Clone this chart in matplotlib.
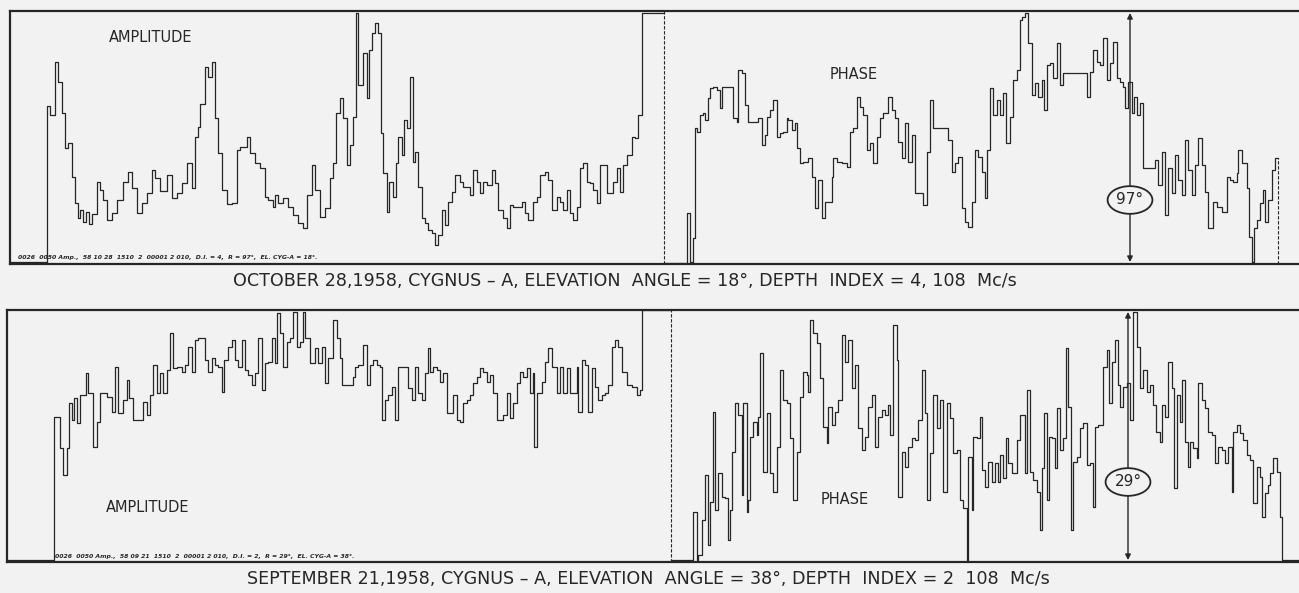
import numpy as np
import matplotlib.pyplot as plt

# Recorder traces, Cygnus-A at 108 Mc/s.
# Each list holds (time, deflection) pairs, time in chart units along the record,
# deflection in chart units above the baseline (full scale ~252).

# ---- October 28, 1958 ----
amp_oct = [
    (0, 2), (37, 158), (40, 149), (45, 202), (48, 182), (52, 151), (55, 116), (58, 121),
    (62, 87), (65, 61), (68, 46), (70, 54), (73, 42), (76, 52), (79, 40), (82, 50),
    (87, 82), (90, 74), (93, 64), (97, 44), (102, 51), (107, 64), (113, 82), (118, 92),
    (122, 76), (127, 51), (132, 61), (137, 71), (142, 94), (145, 86), (150, 73), (157, 89),
    (162, 66), (167, 71), (172, 81), (177, 101), (182, 76), (185, 127), (188, 137), (190, 160),
    (195, 197), (198, 187), (202, 202), (205, 146), (208, 111), (212, 74), (217, 60), (222, 61),
    (227, 114), (230, 117), (237, 127), (240, 111), (245, 101), (250, 96), (255, 67), (258, 64),
    (263, 57), (265, 69), (268, 61), (273, 66), (278, 57), (283, 49), (288, 41), (293, 36),
    (297, 69), (302, 99), (305, 74), (310, 47), (315, 56), (320, 86), (323, 101), (326, 151),
    (330, 166), (333, 146), (337, 99), (340, 119), (343, 147), (346, 251), (348, 179), (353, 211),
    (357, 166), (359, 214), (362, 231), (365, 241), (368, 231), (371, 131), (373, 91), (377, 52),
    (379, 82), (383, 67), (386, 101), (388, 127), (392, 109), (394, 144), (397, 136), (400, 187),
    (403, 102), (405, 112), (408, 77), (412, 46), (415, 41), (418, 34), (422, 31), (425, 19),
    (428, 29), (432, 54), (435, 39), (438, 62), (442, 72), (445, 89), (450, 82), (453, 77),
    (460, 69), (463, 94), (467, 82), (470, 71), (473, 82), (477, 79), (482, 94), (485, 81),
    (488, 54), (493, 46), (497, 36), (500, 59), (503, 57), (508, 57), (512, 62), (515, 51),
    (518, 44), (523, 62), (527, 67), (530, 89), (535, 92), (538, 84), (542, 54), (547, 67),
    (550, 62), (553, 54), (557, 74), (560, 51), (563, 44), (567, 57), (570, 96), (573, 101),
    (577, 82), (580, 81), (583, 74), (587, 61), (590, 99), (597, 71), (603, 82), (607, 96),
    (610, 72), (613, 99), (617, 109), (622, 127), (625, 126), (628, 149), (632, 251), (654, 251),
]

phase_oct = [
    (654, 1), (677, 51), (680, 2), (683, 26), (685, 136), (687, 132), (690, 149), (693, 151),
    (695, 144), (698, 166), (700, 176), (703, 177), (707, 174), (710, 156), (712, 177), (723, 146),
    (727, 142), (728, 194), (732, 191), (735, 159), (738, 142), (748, 146), (752, 119), (755, 129),
    (757, 147), (760, 154), (763, 164), (767, 127), (770, 131), (773, 132), (777, 146), (778, 144),
    (782, 134), (785, 141), (787, 116), (790, 101), (793, 102), (798, 106), (802, 87), (805, 56),
    (808, 84), (812, 46), (815, 62), (822, 87), (823, 106), (827, 102), (832, 101), (837, 97),
    (840, 132), (843, 136), (847, 167), (850, 157), (853, 149), (857, 114), (860, 121), (863, 101),
    (867, 127), (870, 146), (873, 151), (878, 167), (882, 154), (885, 146), (888, 122), (892, 106),
    (895, 141), (898, 102), (902, 129), (905, 71), (913, 59), (917, 112), (920, 164), (923, 136),
    (938, 124), (942, 92), (945, 101), (948, 107), (952, 56), (955, 42), (958, 37), (962, 62),
    (965, 114), (968, 107), (972, 92), (975, 66), (977, 114), (980, 176), (983, 149), (987, 164),
    (990, 149), (993, 171), (996, 121), (1000, 147), (1003, 184), (1007, 194), (1010, 244),
    (1012, 247), (1015, 251), (1018, 221), (1022, 169), (1025, 181), (1028, 167), (1032, 184),
    (1034, 154), (1037, 199), (1040, 201), (1043, 186), (1047, 221), (1050, 179), (1053, 191),
    (1077, 167), (1080, 192), (1083, 214), (1087, 202), (1090, 199), (1093, 226), (1097, 184),
    (1100, 201), (1103, 222), (1107, 186), (1110, 182), (1113, 177), (1115, 156), (1118, 182),
    (1122, 151), (1124, 167), (1127, 149), (1130, 161), (1133, 96), (1145, 104), (1148, 79),
    (1152, 112), (1155, 49), (1158, 96), (1162, 71), (1165, 109), (1168, 84), (1172, 69),
    (1175, 124), (1178, 94), (1182, 69), (1185, 99), (1188, 126), (1192, 99), (1195, 72),
    (1198, 36), (1203, 62), (1207, 57), (1212, 52), (1217, 87), (1220, 84), (1223, 82),
    (1227, 91), (1228, 114), (1232, 101), (1237, 76), (1239, 27), (1242, 2), (1244, 36),
    (1247, 44), (1250, 61), (1253, 74), (1255, 42), (1258, 64), (1262, 94), (1265, 106), (1268, 106),
]

# ---- September 21, 1958 ----
amp_sep = [
    (0, 2), (47, 145), (53, 114), (56, 87), (60, 114), (62, 159), (65, 142), (67, 164),
    (70, 139), (73, 167), (79, 189), (81, 169), (86, 115), (90, 140), (93, 169), (100, 165),
    (105, 150), (108, 195), (111, 149), (116, 162), (120, 182), (122, 164), (126, 142), (136, 160),
    (140, 147), (143, 167), (146, 197), (150, 169), (153, 189), (156, 169), (160, 192), (163, 229),
    (166, 194), (170, 195), (175, 190), (178, 197), (181, 215), (185, 190), (188, 222), (191, 224),
    (198, 202), (201, 190), (205, 204), (208, 197), (211, 195), (215, 170), (217, 202), (221, 215),
    (225, 222), (228, 202), (231, 195), (235, 222), (238, 192), (241, 187), (245, 177), (248, 189),
    (251, 224), (255, 172), (258, 199), (261, 200), (265, 224), (268, 199), (270, 249), (273, 229),
    (276, 195), (280, 220), (283, 224), (286, 250), (290, 215), (293, 220), (296, 250), (298, 224),
    (303, 199), (308, 214), (311, 199), (315, 215), (318, 179), (321, 204), (326, 242), (330, 224),
    (333, 204), (335, 177), (346, 185), (348, 195), (351, 197), (356, 217), (360, 177), (363, 197),
    (366, 202), (370, 197), (373, 195), (375, 142), (378, 162), (381, 167), (385, 175), (388, 142),
    (391, 195), (401, 174), (405, 162), (408, 195), (411, 169), (415, 162), (418, 189), (421, 214),
    (423, 190), (426, 195), (430, 192), (433, 180), (436, 189), (440, 149), (446, 167), (450, 142),
    (453, 140), (456, 159), (460, 162), (463, 167), (466, 179), (470, 185), (473, 194), (476, 190),
    (480, 180), (483, 187), (486, 169), (490, 142), (496, 147), (500, 169), (503, 144), (506, 159),
    (510, 179), (513, 190), (516, 185), (520, 194), (523, 169), (526, 189), (527, 115), (530, 169),
    (535, 180), (538, 200), (541, 214), (545, 195), (550, 169), (553, 195), (556, 169), (560, 194),
    (563, 169), (570, 195), (571, 150), (575, 202), (578, 197), (581, 150), (585, 194), (588, 175),
    (591, 162), (595, 167), (598, 169), (601, 177), (605, 215), (608, 222), (611, 215), (615, 190),
    (620, 177), (625, 175), (630, 167), (633, 172), (635, 252), (664, 252),
]

phase_sep = [
    (664, 2), (686, 50), (690, 2), (691, 7), (695, 42), (698, 87), (701, 17), (703, 60),
    (706, 150), (708, 52), (711, 89), (715, 65), (718, 64), (721, 22), (723, 52), (725, 110),
    (728, 159), (731, 147), (735, 67), (736, 159), (740, 50), (741, 62), (743, 125), (746, 140),
    (750, 127), (751, 145), (753, 209), (756, 90), (760, 149), (763, 89), (766, 70), (770, 115),
    (773, 192), (776, 162), (780, 159), (783, 124), (786, 62), (790, 110), (793, 165), (796, 190),
    (800, 187), (801, 170), (803, 242), (806, 229), (810, 219), (813, 184), (816, 135), (820, 119),
    (821, 155), (825, 137), (828, 150), (831, 162), (835, 227), (838, 200), (841, 222), (845, 174),
    (848, 197), (851, 134), (855, 112), (858, 125), (861, 155), (865, 167), (868, 115), (871, 145),
    (875, 152), (878, 147), (881, 157), (883, 127), (886, 237), (890, 202), (891, 65), (895, 110),
    (898, 95), (901, 115), (905, 124), (908, 122), (911, 142), (915, 192), (918, 149), (920, 62),
    (923, 109), (926, 167), (930, 134), (933, 162), (936, 70), (940, 159), (943, 144), (946, 109),
    (950, 112), (953, 62), (956, 54), (960, 2), (961, 105), (965, 52), (966, 125), (970, 124),
    (973, 145), (975, 92), (978, 75), (981, 100), (985, 80), (988, 99), (991, 80), (993, 107),
    (996, 84), (999, 124), (1001, 99), (1005, 89), (1010, 122), (1013, 147), (1018, 89),
    (1020, 172), (1023, 90), (1026, 82), (1030, 70), (1033, 32), (1035, 94), (1037, 149),
    (1040, 62), (1042, 125), (1045, 124), (1048, 94), (1050, 154), (1053, 112), (1056, 124),
    (1059, 214), (1061, 155), (1064, 32), (1066, 100), (1070, 105), (1073, 134), (1076, 139),
    (1080, 97), (1083, 99), (1086, 55), (1088, 135), (1091, 137), (1096, 195), (1100, 212),
    (1102, 159), (1105, 200), (1108, 222), (1111, 177), (1113, 155), (1116, 175), (1120, 179),
    (1123, 142), (1126, 250), (1130, 215), (1133, 174), (1136, 192), (1140, 170), (1143, 177),
    (1146, 157), (1149, 130), (1153, 120), (1155, 157), (1158, 145), (1161, 200), (1165, 174),
    (1167, 74), (1170, 167), (1173, 140), (1175, 182), (1178, 120), (1181, 95), (1183, 120),
    (1186, 114), (1190, 104), (1191, 179), (1195, 162), (1198, 154), (1201, 130), (1205, 127),
    (1208, 99), (1211, 115), (1215, 112), (1218, 99), (1221, 115), (1225, 70), (1226, 130),
    (1230, 137), (1233, 129), (1236, 122), (1240, 107), (1243, 102), (1246, 59), (1250, 95),
    (1253, 85), (1255, 45), (1258, 69), (1261, 77), (1263, 89), (1266, 104), (1270, 90),
    (1273, 45), (1275, 2), (1292, 2),
]

# reference phase markers
ref_oct_t, ref_oct_label = 1120, "97°"
ref_sep_t, ref_sep_label = 1121, "29°"

caption_oct = "OCTOBER 28,1958, CYGNUS – A, ELEVATION  ANGLE = 18°, DEPTH  INDEX = 4, 108  Mc/s"
caption_sep = "SEPTEMBER 21,1958, CYGNUS – A, ELEVATION  ANGLE = 38°, DEPTH  INDEX = 2  108  Mc/s"
note_oct = "0026  0050 Amp.,  58 10 28  1510  2  00001 2 010,  D.I. = 4,  R = 97°,  EL. CYG-A = 18°."
note_sep = "0026  0050 Amp.,  58 09 21  1510  2  00001 2 010,  D.I. = 2,  R = 29°,  EL. CYG-A = 38°."

BG = "#f2f2f2"
INK = "#262626"


def draw_trace(ax, pts, dashed_end=False):
    t, v = np.array(pts, dtype=float).T
    ax.plot(t, v, drawstyle="steps-post", color=INK, lw=0.9)
    if dashed_end:
        ax.vlines(t[-1], 0, v[-1], colors=INK, linestyles=(0, (3, 1.5)), lw=0.8)


def setup(ax, tmax, top):
    ax.set_facecolor(BG)
    ax.set_xlim(0, tmax)
    ax.set_ylim(0, top)
    ax.set_xticks([])
    ax.set_yticks([])
    ax.spines["right"].set_visible(False)
    for s in ("left", "top", "bottom"):
        ax.spines[s].set_linewidth(1.6)
        ax.spines[s].set_color(INK)


def ref_marker(ax, t, label, top, label_v):
    ax.annotate("", xy=(t, top - 2), xytext=(t, 2),
                arrowprops=dict(arrowstyle="<|-|>", color=INK, lw=1.0,
                                mutation_scale=8, shrinkA=0, shrinkB=0))
    ax.text(t, label_v, label, ha="center", va="center", fontsize=11, color=INK,
            bbox=dict(boxstyle="ellipse,pad=0.15", fc=BG, ec=INK, lw=1.3))


fig = plt.figure(figsize=(12.99, 5.93), dpi=100)
fig.patch.set_facecolor(BG)

# top record
ax1 = fig.add_axes([10 / 1299, 1 - 264 / 593, 1 - 10 / 1299, 253 / 593])
setup(ax1, 1289, 253)
draw_trace(ax1, amp_oct)
ax1.axvline(amp_oct[-1][0], color=INK, ls=(0, (3, 1.5)), lw=0.8)
draw_trace(ax1, phase_oct, dashed_end=True)
ref_marker(ax1, ref_oct_t, ref_oct_label, 253, 64)
ax1.text(141, 226, "AMPLITUDE", ha="center", va="center", fontsize=10.5, color=INK)
ax1.text(844, 189, "PHASE", ha="center", va="center", fontsize=10.5, color=INK)
ax1.text(8, 4, note_oct, ha="left", va="bottom", fontsize=4.4, style="italic",
         weight="bold", color=INK)

# bottom record
ax2 = fig.add_axes([7 / 1299, 1 - 562 / 593, 1 - 7 / 1299, 252 / 593])
setup(ax2, 1292, 252)
draw_trace(ax2, amp_sep)
ax2.axvline(amp_sep[-1][0], color=INK, ls=(0, (3, 1.5)), lw=0.8)
draw_trace(ax2, phase_sep)
ref_marker(ax2, ref_sep_t, ref_sep_label, 252, 80)
ax2.text(141, 54, "AMPLITUDE", ha="center", va="center", fontsize=10.5, color=INK)
ax2.text(838, 62, "PHASE", ha="center", va="center", fontsize=10.5, color=INK)
ax2.text(48, 3, note_sep, ha="left", va="bottom", fontsize=4.4, style="italic",
         weight="bold", color=INK)

fig.text(625 / 1299, 1 - 281 / 593, caption_oct, ha="center", va="center",
         fontsize=12.6, color=INK)
fig.text(648 / 1299, 1 - 579 / 593, caption_sep, ha="center", va="center",
         fontsize=12.6, color=INK)

fig.savefig("out.png", dpi=100, facecolor=BG)
